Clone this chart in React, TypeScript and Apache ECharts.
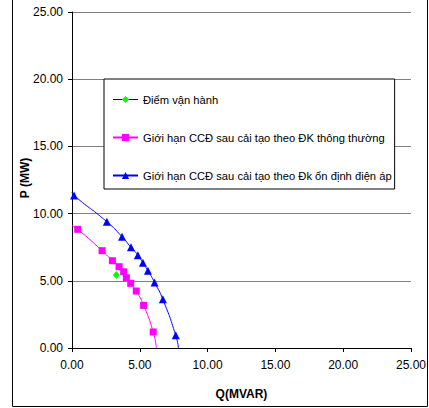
import React, { useEffect, useRef } from "react";
import * as echarts from "echarts";

const seriesNames = [
  "Điểm vận hành",
  "Giới hạn CCĐ sau cải tạo theo ĐK thông thường",
  "Giới hạn CCĐ sau cải tạo theo Đk ổn định điện áp",
];

const yAxisTitle = "P (MW)";
const xAxisTitle = "Q(MVAR)";

const operatingPoint: [number, number][] = [[3.27, 5.43]];

const normalLimitQ = [0.42, 2.22, 2.98, 3.47, 3.81, 4.01, 4.33, 4.74, 5.28, 5.99];
const normalLimitP = [8.83, 7.24, 6.49, 6.05, 5.67, 5.23, 4.81, 4.24, 3.17, 1.19];
const normalCurveStart: [number, number] = [0, 9.1];
const normalCurveEnd: [number, number] = [6.22, 0];

const stabilityLimitQ = [0.15, 2.57, 3.69, 4.35, 4.86, 5.23, 5.6, 6.09, 6.7, 7.65];
const stabilityLimitP = [11.35, 9.39, 8.28, 7.49, 6.91, 6.34, 5.75, 4.88, 3.62, 0.94];
const stabilityCurveStart: [number, number] = [0, 11.6];
const stabilityCurveEnd: [number, number] = [7.85, 0];

const axisMin = 0;
const axisMax = 25;
const axisStep = 5;

const FONT = "Arial, 'Liberation Sans', sans-serif";

function buildCurve(
  start: [number, number],
  qs: number[],
  ps: number[],
  end: [number, number]
) {
  return [
    { value: start, symbol: "none" },
    ...qs.map((q, i) => ({ value: [q, ps[i]] })),
    { value: end, symbol: "none" },
  ];
}

export default function App() {
  const ref = useRef<HTMLDivElement>(null);
  useEffect(() => {
    if (!ref.current) return;
    const chart = echarts.init(ref.current, null, { renderer: "svg" });
    const fmt = (v: number) => v.toFixed(2);
    chart.setOption({
      animation: false,
      backgroundColor: "#fff",
      textStyle: { fontFamily: FONT },
      grid: { left: 72, right: 16, top: 12, bottom: 60 },
      xAxis: {
        type: "value",
        min: axisMin,
        max: axisMax,
        interval: axisStep,
        name: xAxisTitle,
        nameLocation: "middle",
        nameGap: 40,
        nameMoveOverlap: false,
        nameTextStyle: { fontFamily: FONT, fontSize: 12, fontWeight: "bold", color: "#000" },
        axisLine: { show: true, lineStyle: { color: "#000", width: 1 } },
        axisTick: { show: true, length: 4, lineStyle: { color: "#000" } },
        axisLabel: { formatter: fmt, fontFamily: FONT, fontSize: 12, color: "#000", margin: 11 },
        splitLine: { show: false },
      },
      yAxis: {
        type: "value",
        min: axisMin,
        max: axisMax,
        interval: axisStep,
        axisLine: { show: true, lineStyle: { color: "#000", width: 1 } },
        axisTick: { show: true, length: 4, lineStyle: { color: "#000" } },
        axisLabel: { formatter: fmt, fontFamily: FONT, fontSize: 12, color: "#000", margin: 9 },
        splitLine: { show: true, lineStyle: { color: "#808080", width: 1 } },
      },
      legend: {
        orient: "vertical",
        left: 104,
        top: 79,
        backgroundColor: "#fff",
        borderColor: "#000",
        borderWidth: 1,
        padding: [15, 3, 8, 8],
        itemWidth: 25,
        itemHeight: 9,
        itemGap: 27,
        textStyle: { fontFamily: FONT, fontSize: 11.2, color: "#000" },
        data: [
          { name: seriesNames[0], lineStyle: { color: "#000080", width: 1 } },
          { name: seriesNames[1] },
          { name: seriesNames[2] },
        ],
      },
      graphic: [
        {
          type: "rect",
          shape: { x: 12.5, y: -5, width: 415, height: 411.5 },
          style: { fill: "none", stroke: "#000", lineWidth: 1 },
          silent: true,
        },
        {
          type: "text",
          x: 25,
          y: 178,
          rotation: Math.PI / 2,
          silent: true,
          style: {
            text: yAxisTitle,
            fontFamily: FONT,
            fontSize: 12,
            fontWeight: "bold",
            fill: "#000",
            align: "center",
            verticalAlign: "middle",
          },
        },
      ],
      series: [
        {
          name: seriesNames[0],
          type: "line",
          data: operatingPoint,
          symbol: "diamond",
          symbolSize: [7, 8],
          itemStyle: { color: "#00FF00" },
          lineStyle: { color: "#000080", width: 1 },
          z: 5,
        },
        {
          name: seriesNames[1],
          type: "line",
          data: buildCurve(normalCurveStart, normalLimitQ, normalLimitP, normalCurveEnd),
          smooth: 0.6,
          symbol: "rect",
          symbolSize: 7,
          itemStyle: { color: "#FF00FF" },
          lineStyle: { color: "#FF00FF", width: 1 },
        },
        {
          name: seriesNames[2],
          type: "line",
          data: buildCurve(stabilityCurveStart, stabilityLimitQ, stabilityLimitP, stabilityCurveEnd),
          smooth: 0.6,
          symbol: "triangle",
          symbolSize: 8,
          itemStyle: { color: "#0000FF" },
          lineStyle: { color: "#0000FF", width: 1 },
        },
      ],
    });
    return () => chart.dispose();
  }, []);
  return (
    <div
      ref={ref}
      style={{ position: "fixed", left: 0, top: 0, width: 429, height: 408 }}
    />
  );
}
